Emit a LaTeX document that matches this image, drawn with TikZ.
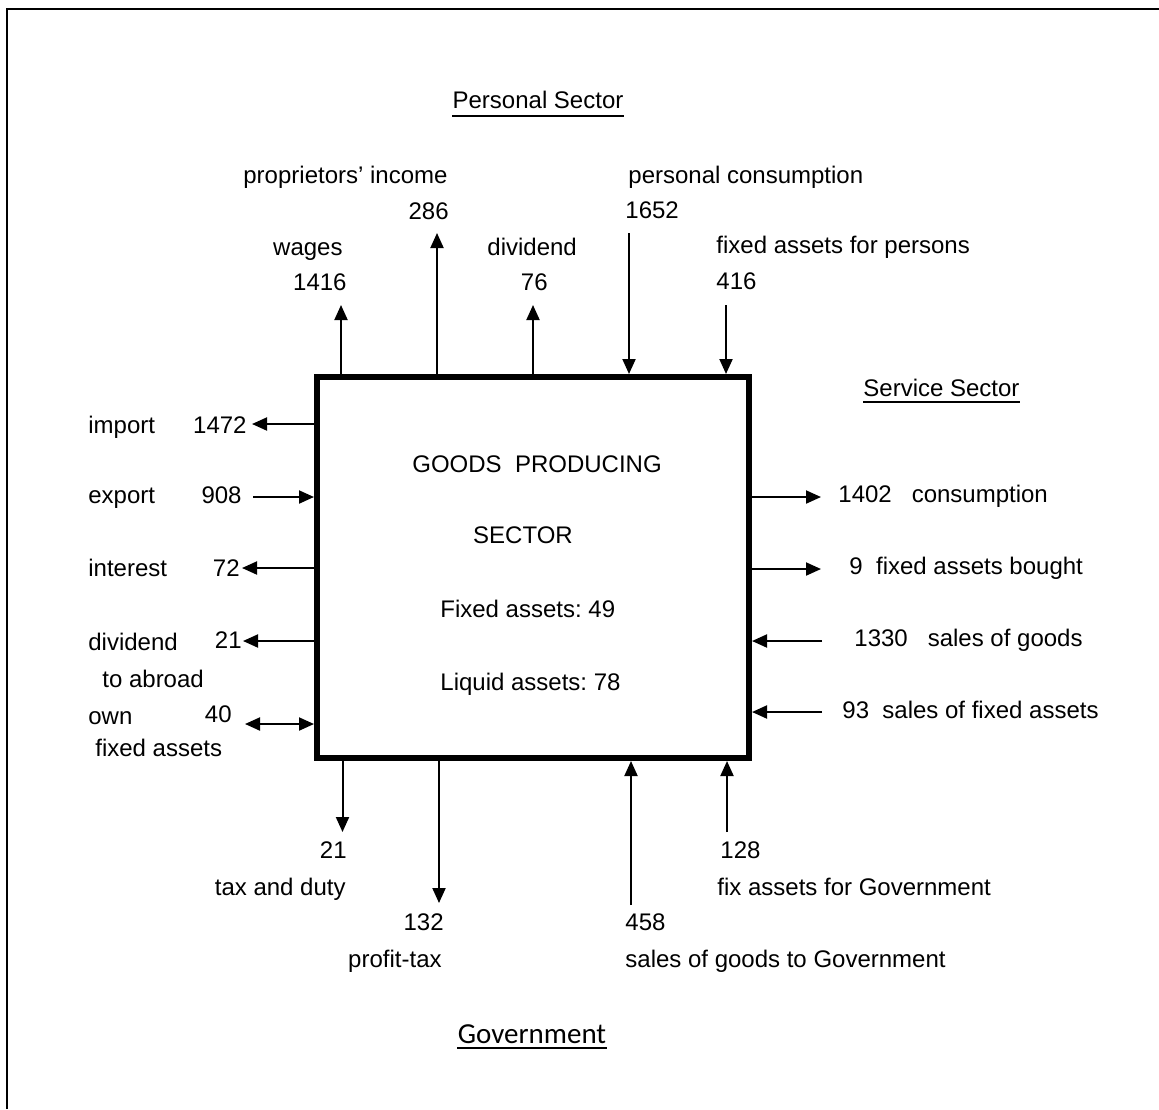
\documentclass[tikz,border=0pt]{standalone}
\usepackage{fontspec}
\setmainfont{Liberation Sans}
\newfontfamily\govfont{Carlito}
\usetikzlibrary{arrows.meta}
\frenchspacing

\begin{document}
\begin{tikzpicture}[x=0.5pt, y=-0.5pt, >={Triangle[length=7.5pt,width=6.5pt]},
    lbl/.style={inner sep=0pt, font=\fontsize{12}{14}\selectfont,
      text height=0.72em, text depth=0.22em},
    flow/.style={->, line width=1pt},
    uline/.style={line width=0.9pt},
    sector/.style={draw, line width=3pt, minimum width=216pt,
      minimum height=190.5pt}]
  \useasboundingbox (0,0) rectangle (1159,1109);
  \draw[line width=1.2pt] (7,1109) -- (7,9) -- (1159,9);
  \node[sector] (gps) at (533,567.5) {};
  \node[lbl] (gpsA) at (537,467) {GOODS\ \ PRODUCING};
  \node[lbl] (gpsB) at (523,538) {SECTOR};
  \node[lbl,anchor=west] (fix) at (440,612) {Fixed assets: 49};
  \node[lbl,anchor=west] (liq) at (440,685) {Liquid assets: 78};
  % personal sector
  \node[lbl] (pers) at (538,103) {Personal Sector};
  \draw[uline] ([yshift=-1.4pt]pers.south west) -- ([yshift=-1.4pt]pers.south east);
  \node[lbl,anchor=west] (prop) at (243,178) {proprietors’ income};
  \node[lbl,anchor=east] (propv) at (449,214) {286};
  \node[lbl,anchor=east] (wag) at (343,250) {wages};
  \node[lbl,anchor=east] (wagv) at (347,285) {1416};
  \node[lbl,anchor=west] (div) at (487,250) {dividend};
  \node[lbl,anchor=east] (divv) at (548,285) {76};
  \node[lbl,anchor=west] (pcon) at (628,178) {personal consumption};
  \node[lbl,anchor=west] (pconv) at (625,213) {1652};
  \node[lbl,anchor=west] (fap) at (716,248) {fixed assets for persons};
  \node[lbl,anchor=west] (fapv) at (716,284) {416};
  \coordinate (wagT) at (341,305);
  \coordinate (propT) at (437,233);
  \coordinate (divT) at (533,305);
  \coordinate (pconT) at (629,233);
  \coordinate (fapT) at (726,305);
  \draw[flow] (wagT |- gps.north) -- (wagT);
  \draw[flow] (propT |- gps.north) -- (propT);
  \draw[flow] (divT |- gps.north) -- (divT);
  \draw[flow] (pconT) -- (pconT |- gps.north);
  \draw[flow] (fapT) -- (fapT |- gps.north);
  % abroad
  \node[lbl,anchor=west] (imp) at (88,428) {import};
  \node[lbl,anchor=east] (impv) at (247,428) {1472};
  \node[lbl,anchor=west] (exp) at (88,498) {export};
  \node[lbl,anchor=east] (expv) at (242,498) {908};
  \node[lbl,anchor=west] (int) at (88,571) {interest};
  \node[lbl,anchor=east] (intv) at (240,571) {72};
  \node[lbl,anchor=west] (dab) at (88,645) {dividend};
  \node[lbl,anchor=west] (dabB) at (102,682) {to abroad};
  \node[lbl,anchor=east] (dabv) at (242,643) {21};
  \node[lbl,anchor=west] (own) at (88,719) {own};
  \node[lbl,anchor=west] (ownB) at (95,751) {fixed assets};
  \node[lbl,anchor=east] (ownv) at (232,717) {40};
  \coordinate (impT) at (252,424);
  \coordinate (expT) at (253,497);
  \coordinate (intT) at (242,568);
  \coordinate (dabT) at (243,641);
  \coordinate (ownT) at (245,724);
  \draw[flow] (impT -| gps.west) -- (impT);
  \draw[flow] (expT) -- (expT -| gps.west);
  \draw[flow] (intT -| gps.west) -- (intT);
  \draw[flow] (dabT -| gps.west) -- (dabT);
  \draw[flow,<->] (ownT) -- (ownT -| gps.west);
  % service sector
  \node[lbl,anchor=west] (serv) at (863,391) {Service Sector};
  \draw[uline] ([yshift=-0.6pt]serv.south west) -- ([yshift=-0.6pt]serv.south east);
  \node[lbl,anchor=west] (cons) at (838,497) {1402\ \ \ consumption};
  \node[lbl,anchor=west] (fab) at (849,569) {9\ \ fixed assets bought};
  \node[lbl,anchor=west] (sog) at (854,641) {1330\ \ \ sales of goods};
  \node[lbl,anchor=west] (sfa) at (842,713) {93\ \ sales of fixed assets};
  \coordinate (consT) at (821,497);
  \coordinate (fabT) at (821,569);
  \coordinate (sogT) at (822,641);
  \coordinate (sfaT) at (822,712);
  \draw[flow] (consT -| gps.east) -- (consT);
  \draw[flow] (fabT -| gps.east) -- (fabT);
  \draw[flow] (sogT) -- (sogT -| gps.east);
  \draw[flow] (sfaT) -- (sfaT -| gps.east);
  % government
  \node[lbl,anchor=east] (taxv) at (347,853) {21};
  \node[lbl,anchor=east] (tax) at (346,890) {tax and duty};
  \node[lbl,anchor=east] (prfv) at (444,925) {132};
  \node[lbl,anchor=east] (prf) at (442,962) {profit-tax};
  \node[lbl,anchor=west] (sgov) at (625,925) {458};
  \node[lbl,anchor=west] (sgovB) at (625,962) {sales of goods to Government};
  \node[lbl,anchor=west] (fgov) at (720,853) {128};
  \node[lbl,anchor=west] (fgovB) at (717,890) {fix assets for Government};
  \node[lbl,font=\govfont\fontsize{14.5}{17}\selectfont] (gov) at (532,1038)
    {Government};
  \draw[uline] (gov.south west) -- (gov.south east);
  \coordinate (taxT) at (342.5,832);
  \coordinate (prfT) at (439,903);
  \coordinate (sgovT) at (631,905);
  \coordinate (fgovT) at (727,832);
  \draw[flow] (taxT |- gps.south) -- (taxT);
  \draw[flow] (prfT |- gps.south) -- (prfT);
  \draw[flow] (sgovT) -- (sgovT |- gps.south);
  \draw[flow] (fgovT) -- (fgovT |- gps.south);
\end{tikzpicture}
\end{document}
